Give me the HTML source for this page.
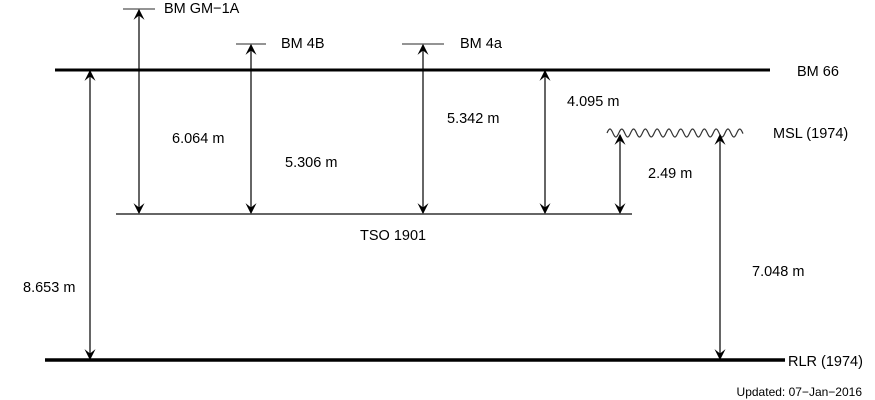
<!DOCTYPE html>
<html><head><meta charset="utf-8">
<style>
html,body{margin:0;padding:0;background:#fff;}
svg{display:block;font-family:"Liberation Sans",sans-serif;}
</style></head>
<body>
<svg id="chart" width="875" height="400" viewBox="0 0 875 400" xmlns="http://www.w3.org/2000/svg">
<defs>
<marker id="ah" viewBox="0 0 10 10" refX="9" refY="5" markerWidth="11" markerHeight="11" markerUnits="userSpaceOnUse" orient="auto-start-reverse">
<path d="M0,0 L10,5 L0,10 L4,5 Z" fill="#000"/>
</marker>
</defs>
</svg>
<script>
const NS='http://www.w3.org/2000/svg';
const svg=document.getElementById('chart');
// datum y positions (px)
const datumNames=['BM 66','TSO 1901','MSL (1974)','RLR (1974)'];
const datumY=[70,214,133,360];
// benchmark arrows: name, top y, label
const benchNames=['BM GM\u22121A','BM 4B','BM 4a'];
const benchValues=['6.064 m','5.306 m','5.342 m'];
const benchTopY=[9,44,44];
const benchX=[139,251,423];
const otherValues=['8.653 m','4.095 m','2.49 m','7.048 m'];

function el(tag,attrs,parent){const e=document.createElementNS(NS,tag);for(const k in attrs)e.setAttribute(k,attrs[k]);(parent||svg).appendChild(e);return e;}
function line(x1,y1,x2,y2,w,c,name,m1,m2){const e=el('line',{x1,y1,x2,y2,stroke:c,'stroke-width':w});


if(m1)e.setAttribute('marker-start','url(#ah)');if(m2)e.setAttribute('marker-end','url(#ah)');return e;}
function text(x,y,s,size,name,anchor){const t=el('text',{x,y,'font-size':size,fill:'#000','text-anchor':anchor||'start'});t.textContent=s;


return t;}

const FS=14.5;
// datum lines
line(55,datumY[0],770,datumY[0],3,'#000','bm66-line');
line(116,datumY[1],632,datumY[1],2,'#666','tso1901-line');
line(45,datumY[3],785,datumY[3],3.5,'#000','rlr-line');
// MSL wave
let d='';for(let x=607;x<=743;x+=0.5){const y=datumY[2]+4*Math.sin((x-607)/11.8*2*Math.PI+Math.PI);d+=(x===607?'M':'L')+x+','+y.toFixed(2)+' ';}
const w=el('path',{d,fill:'none',stroke:'#333','stroke-width':1.2});



text(797,76,datumNames[0],FS,'bm66-label');
text(360,240,datumNames[1],FS,'tso1901-label');
text(773,138,datumNames[2],FS,'msl-label');
text(788,366,datumNames[3],FS,'rlr-label');

// benchmarks
const tickHalf=[16,15,21];
const benchLabelX=[164,281,460];
const valPos=[[172,143],[285,167],[447,123]];
for(let i=0;i<3;i++){
  const x=benchX[i],ty=benchTopY[i];
  line(x-tickHalf[i],ty,x+tickHalf[i],ty,1.2,'#555','bench-tick-'+i);
  line(x,ty+1,x,datumY[1]-1,1.2,'#000','bench-arrow-'+i,true,true);
  text(benchLabelX[i],ty+4,benchNames[i],FS,'bench-label-'+i);
  text(valPos[i][0],valPos[i][1],benchValues[i],FS,'bench-value-'+i);
}
// other arrows
line(90,datumY[0]+1,90,datumY[3]-1,1.2,'#000','rlr-bm66-arrow',true,true);
text(23,292,otherValues[0],FS,'rlr-bm66-value');
line(545,datumY[0]+1,545,datumY[1]-1,1.2,'#000','tso-bm66-arrow',true,true);
text(567,106,otherValues[1],FS,'tso-bm66-value');
line(620,datumY[2]+2,620,datumY[1]-1,1.2,'#000','tso-msl-arrow',true,true);
text(648,178,otherValues[2],FS,'tso-msl-value');
line(720,datumY[2]+2,720,datumY[3]-1,1.2,'#000','rlr-msl-arrow',true,true);
text(752,276,otherValues[3],FS,'rlr-msl-value');

text(862,396,'Updated: 07\u2212Jan\u22122016',12,'updated-note','end');
</script>
</body></html>
